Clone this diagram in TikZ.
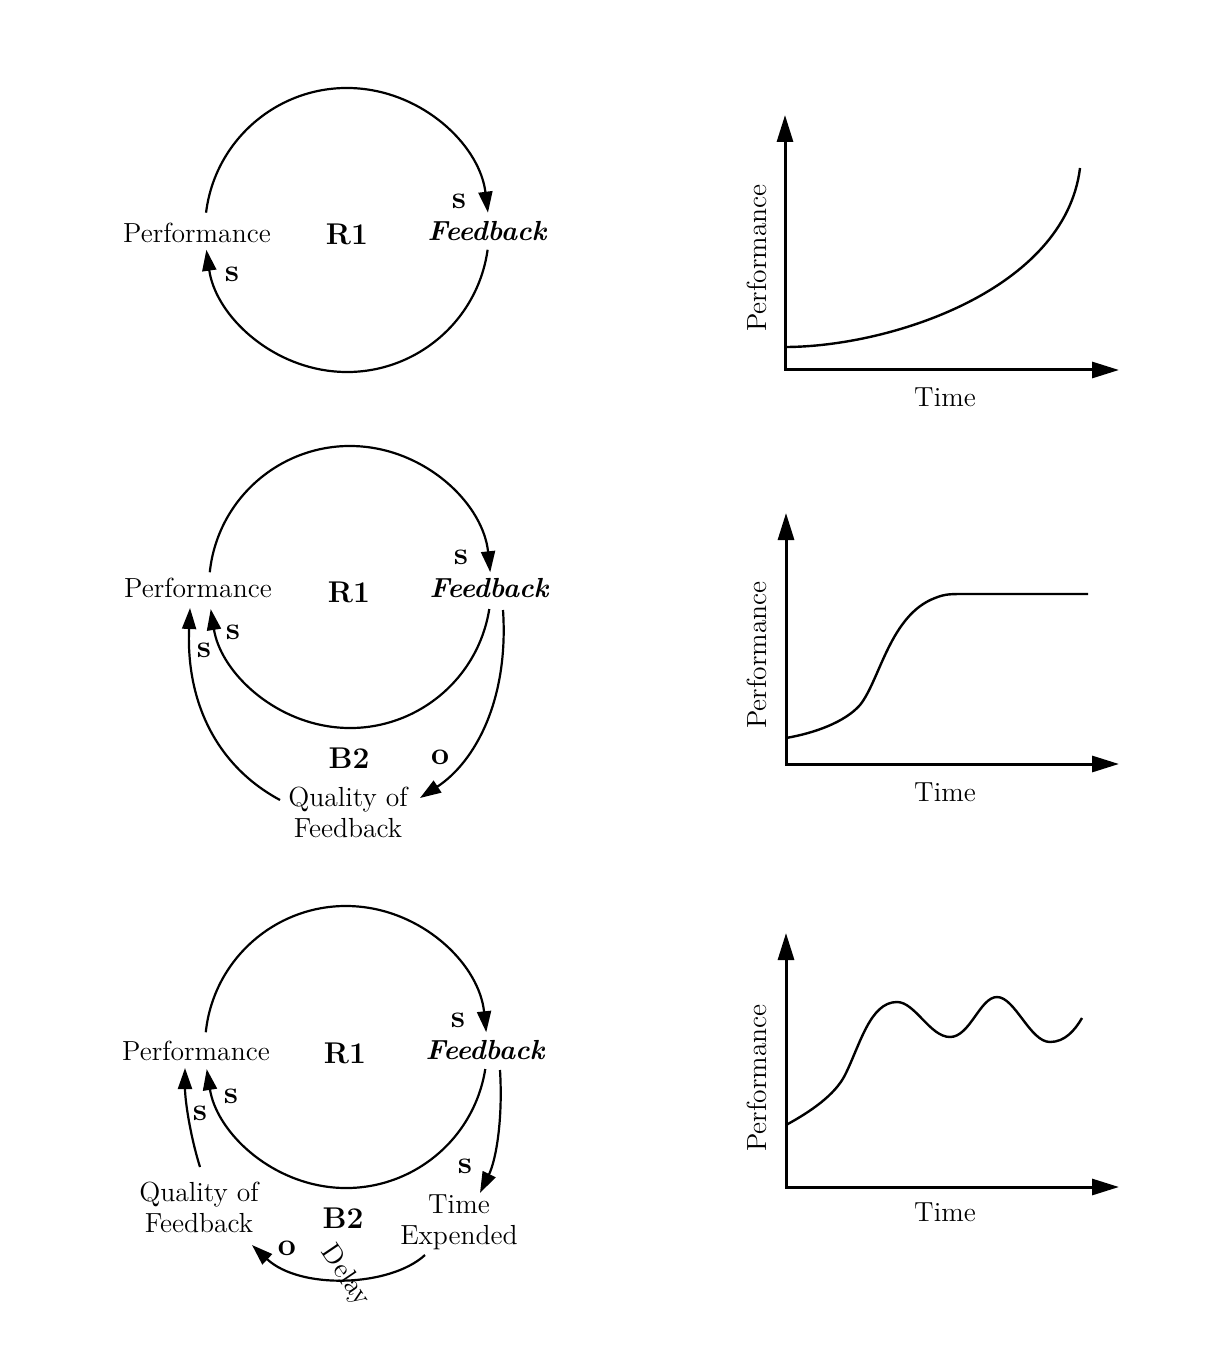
\documentclass[tikz,border=0pt]{standalone}
\usetikzlibrary{arrows.meta,calc}
\begin{document}
\begin{tikzpicture}[x=0.5pt,y=-0.5pt,
  var/.style={font=\fontsize{13.8}{15.5}\selectfont, inner sep=1pt},
  twoline/.style={font=\fontsize{13.8}{15.5}\selectfont, inner sep=1pt, align=center},
  fb/.style={font=\fontsize{13.8}{15.5}\selectfont\bfseries\itshape, inner sep=1pt},
  loopname/.style={font=\fontsize{15}{17}\selectfont\bfseries, inner sep=1pt},
  pol/.style={font=\fontsize{16}{18}\selectfont\bfseries, inner sep=1pt},
  link/.style={line width=1.1pt, -{Triangle[length=10.5pt,width=7pt]}},
  axes/.style={line width=1.5pt, {Triangle[length=13.5pt,width=8pt]}-{Triangle[length=13.5pt,width=8pt]}},
  curve/.style={line width=1.2pt},
]
\useasboundingbox (0,0) rectangle (1212,1368);

% ---------------- Diagram 1 ----------------
\coordinate (c1) at (347,230);
\node[var] (perf1) at (197,233) {Performance};
\node[loopname] (r1a) at (347,234) {R1};
\node[fb] (fb1) at (487,231) {Feedback};
\node[pol] (s1a) at (459,201) {s};
\node[pol] (s1b) at (232,274) {s};
\draw[link] (c1) ++(-173:142) arc[start angle=-173,end angle=-7,radius=142];
\draw[link] (c1) ++(8:142) arc[start angle=8,end angle=172,radius=142];

% ---------------- Diagram 2 ----------------
\coordinate (c2) at (350,587);
\node[var] (perf2) at (198,588) {Performance};
\node[loopname] (r1b) at (349,592) {R1};
\node[fb] (fb2) at (489,588) {Feedback};
\node[pol] (s2a) at (461,557) {s};
\node[pol] (s2b) at (233,632) {s};
\node[pol] (s2c) at (204,650) {s};
\node[loopname] (b2a) at (349,758) {B2};
\node[pol] (o2) at (440,757) {o};
\node[twoline] (q2) at (348,812) {Quality of\\Feedback};
\draw[link] (c2) ++(-174:141) arc[start angle=-174,end angle=-6,radius=141];
\draw[link] (c2) ++(9:141) arc[start angle=9,end angle=171,radius=141];
\coordinate (f2out) at (503,610);
\coordinate (q2in) at (420,798);
\coordinate (q2out) at (280,800);
\coordinate (p2in) at (190,608);
\draw[link] (f2out) .. controls (509,700) and (475,762) .. (q2in);
\draw[link] (q2out) .. controls (215,765) and (186,700) .. (p2in);

% ---------------- Diagram 3 ----------------
\coordinate (c3) at (346,1047);
\node[var] (perf3) at (196,1051) {Performance};
\node[loopname] (r1c) at (345,1053) {R1};
\node[fb] (fb3) at (485,1050) {Feedback};
\node[pol] (s3a) at (458,1020) {s};
\node[pol] (s3b) at (231,1096) {s};
\node[pol] (s3c) at (200,1113) {s};
\node[pol] (s3d) at (465,1166) {s};
\node[pol] (o3) at (287,1248) {o};
\node[loopname] (b2b) at (343,1218) {B2};
\node[twoline] (q3) at (199,1207) {Quality of\\Feedback};
\node[twoline] (te3) at (459,1222) {Time\\Expended};
\node[var, rotate=-56, inner sep=0pt] (delay) at (345,1276) {Delay};
\draw[link] (c3) ++(-174:141) arc[start angle=-174,end angle=-6,radius=141];
\draw[link] (c3) ++(9:141) arc[start angle=9,end angle=171,radius=141];
\coordinate (f3out) at (500,1070);
\coordinate (te3in) at (480,1193);
\coordinate (q3out) at (200,1167);
\coordinate (p3in) at (185,1068);
\coordinate (te3out) at (425,1255);
\coordinate (q3in) at (252,1245);
\draw[link] (f3out) .. controls (503,1120) and (496,1160) .. (te3in);
\draw[link] (q3out) .. controls (190,1135) and (185,1100) .. (p3in);
\draw[link] (te3out) .. controls (390,1287) and (300,1290) .. (q3in);

% ---------------- Graph 1 ----------------
\coordinate (o1) at (785,370);
\coordinate (yt1) at (785,115);
\coordinate (xt1) at (1119,370);
\draw[axes] (yt1) |- (xt1);
\node[var, rotate=90] (yl1) at (757,258) {Performance};
\node[var] (xl1) at (945,397) {Time};
\draw[curve] (785,347) .. controls (890,347) and (1065,290) .. (1080,168);

% ---------------- Graph 2 ----------------
\coordinate (o2) at (786,764);
\coordinate (yt2) at (786,513);
\coordinate (xt2) at (1119,764);
\draw[axes] (yt2) |- (xt2);
\node[var, rotate=90] (yl2) at (757,655) {Performance};
\node[var] (xl2) at (945,792) {Time};
\draw[curve] (786,738) .. controls (815,733) and (845,722) .. (860,705)
  .. controls (880,680) and (890,615) .. (935,598)
  .. controls (945,594) and (950,594) .. (965,594) -- (1088,594);

% ---------------- Graph 3 ----------------
\coordinate (o3g) at (786,1187);
\coordinate (yt3) at (786,933);
\coordinate (xt3) at (1119,1187);
\draw[axes] (yt3) |- (xt3);
\node[var, rotate=90] (yl3) at (757,1078) {Performance};
\node[var] (xl3) at (945,1212) {Time};
\draw[curve] (786,1125) .. controls (810,1112) and (835,1095) .. (845,1075)
  .. controls (860,1045) and (870,1002) .. (897,1002)
  .. controls (915,1002) and (930,1037) .. (950,1037)
  .. controls (970,1037) and (980,997) .. (997,997)
  .. controls (1015,997) and (1030,1042) .. (1050,1042)
  .. controls (1065,1042) and (1075,1030) .. (1082,1018);

\end{tikzpicture}
\end{document}
